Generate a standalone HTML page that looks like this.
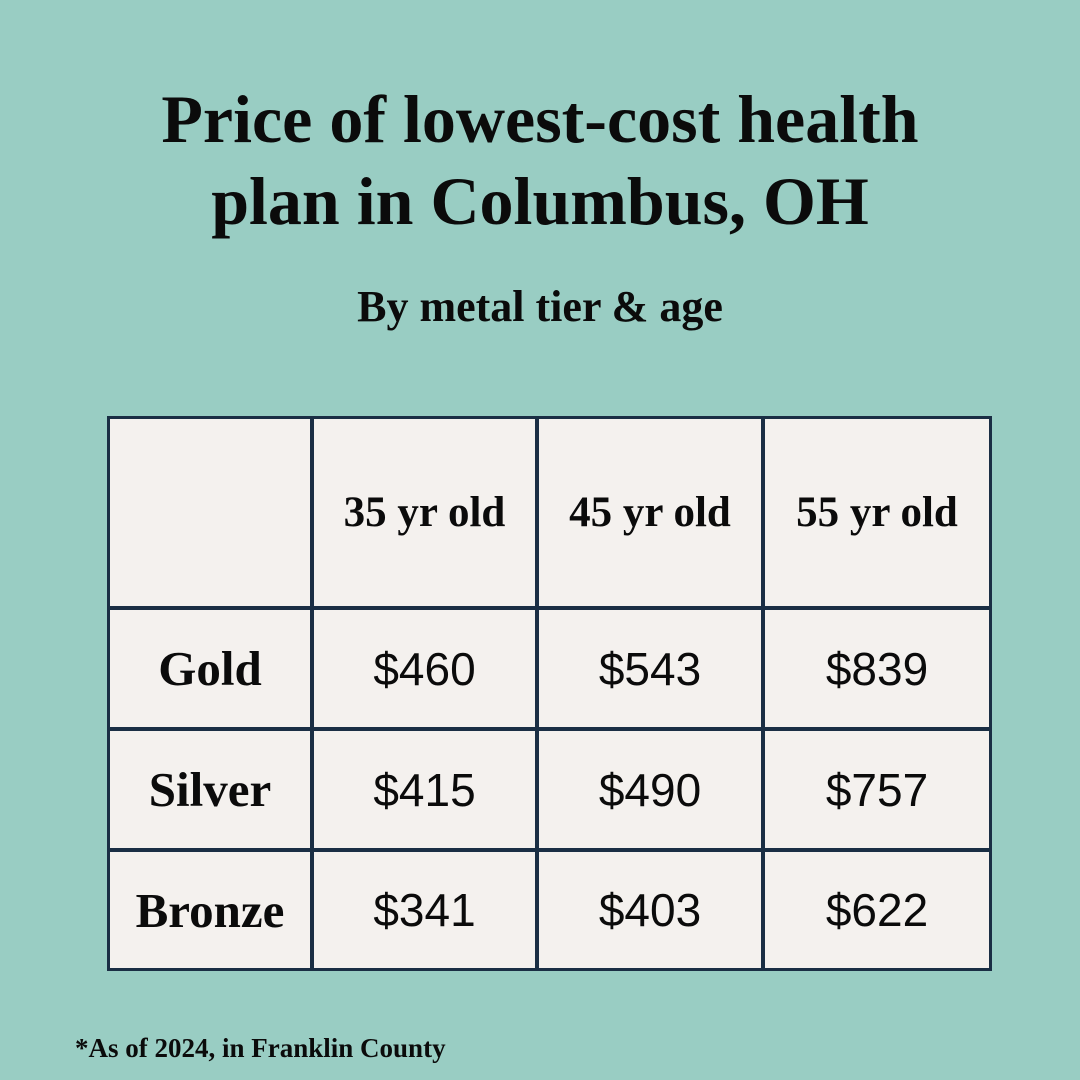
<!DOCTYPE html>
<html><head><meta charset="utf-8">
<style>
body{margin:0;width:1080px;height:1080px;background:#99cdc3;position:relative;overflow:hidden;font-family:"Liberation Serif",serif;color:#0b0b0b}
.t{position:absolute;left:0;width:1080px;text-align:center;font-weight:bold}
.c{position:absolute;box-sizing:border-box;border:3px solid #1a2e44;background:#f4f1ee;display:flex;align-items:center;justify-content:center}
.h{font-family:"Liberation Serif",serif;font-weight:bold;font-size:43px}
.v{font-family:"Liberation Sans",sans-serif;font-size:46px}
</style></head><body>
<div class="t" style="top:78px;font-size:68px;line-height:82px">Price of lowest-cost health<br>plan in Columbus, OH</div>
<div class="t" style="top:281px;font-size:44px">By metal tier &amp; age</div>
<div id="tbl"></div>
<div style="position:absolute;left:75px;top:1033px;font-size:27px;font-weight:bold">*As of 2024, in Franklin County</div>
<script>
const cols=["35 yr old","45 yr old","55 yr old"];
const rows=["Gold","Silver","Bronze"];
const vals=[["$460","$543","$839"],["$415","$490","$757"],["$341","$403","$622"]];
const xs=[107,311,536,762,992], ys=[416,607,728,849,971];
const tbl=document.getElementById('tbl');
function cell(r,c,txt,cls,name){
  const d=document.createElement('div');
  d.className='c '+cls;
  
  
  const x0=xs[c], y0=ys[r];
  const x1=xs[c+1]+(c<3?2:0), y1=ys[r+1]+(r<3?2:0);
  d.style.left=x0+'px';d.style.top=y0+'px';
  d.style.width=(x1-x0)+'px';d.style.height=(y1-y0)+'px';
  d.textContent=txt;tbl.appendChild(d);return d;
}
cell(0,0,'','h','corner-cell');
cols.forEach((t,i)=>{cell(0,i+1,t,'h','header-'+(i+1)).style.paddingTop='0px';});
rows.forEach((rn,r)=>{
  cell(r+1,0,rn,'h','row-label-'+rn.toLowerCase()).style.fontSize='49px';
  vals[r].forEach((v,c)=>cell(r+1,c+1,v,'v','value-'+rn.toLowerCase()+'-'+(c+1)));
});
</script>
</body></html>
